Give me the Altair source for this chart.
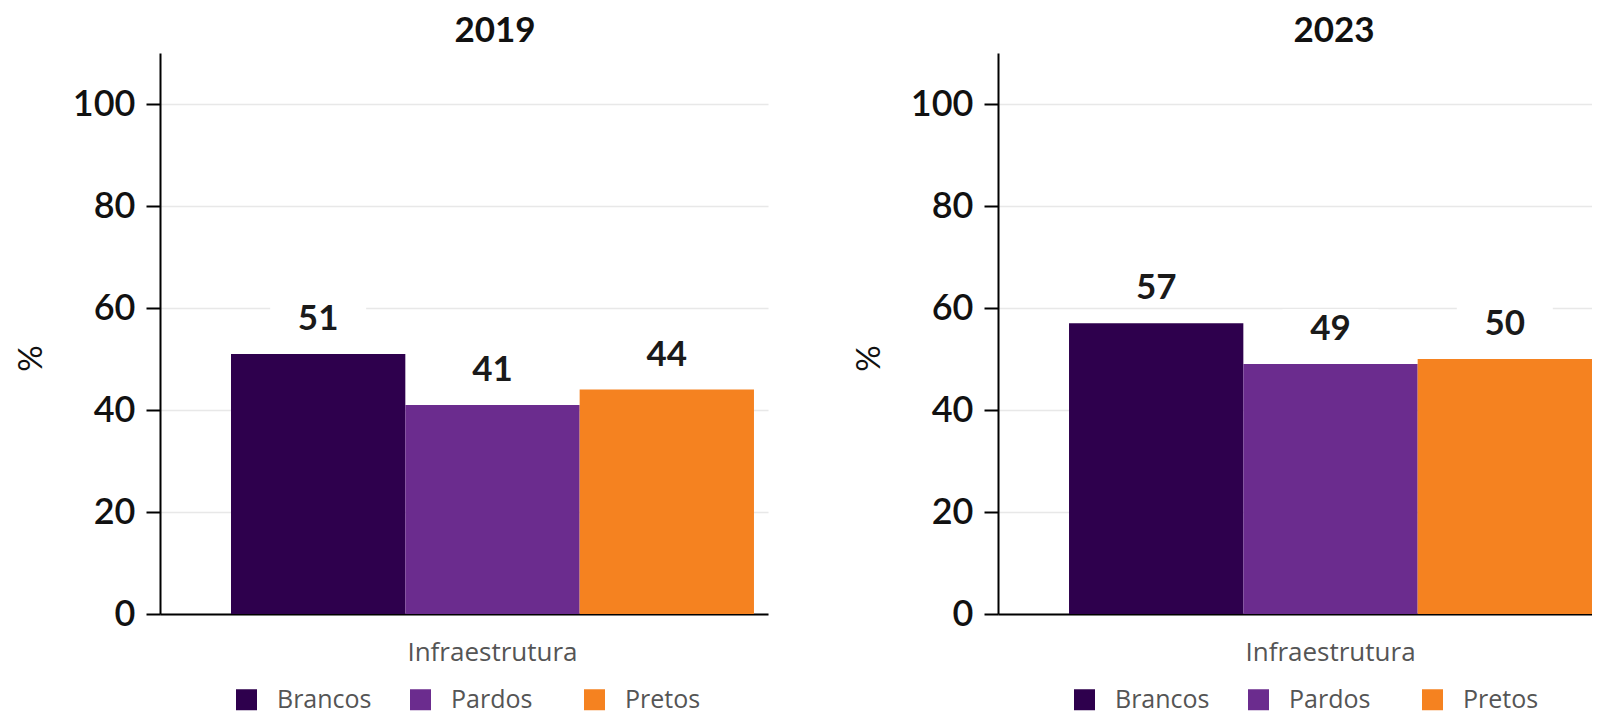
import altair as alt
import pandas as pd

years = ["2019", "2023"]
groups = ["Brancos", "Pardos", "Pretos"]
values_2019 = [51, 41, 44]
values_2023 = [57, 49, 50]
category = "Infraestrutura"
colors = ["#2e004d", "#6b2c8e", "#f58220"]
y_ticks = [0, 20, 40, 60, 80, 100]

BOLD_FONT = "Lato"
LIGHT_FONT = "Open Sans"

# white label background: custom path shifted up above the bar top
box_path = "M-1,-1.146L1,-1.146L1,-0.396L-1,-0.396Z"


def panel(year, values, width, pad_outer, align, title_dx):
    df = pd.DataFrame({"cat": [category] * len(groups), "grupo": groups, "valor": values})
    base = alt.Chart(df).encode(
        x=alt.X(
            "cat:N",
            scale=alt.Scale(paddingInner=0, paddingOuter=pad_outer, align=align),
            axis=alt.Axis(
                title=None, labelAngle=0, ticks=False, domainColor="#000000", domainWidth=2,
                labelFont=LIGHT_FONT, labelFontSize=26, labelColor="#555555", labelPadding=25,
            ),
        ),
        xOffset=alt.XOffset("grupo:N", sort=groups, scale=alt.Scale(paddingInner=0, paddingOuter=0)),
        y=alt.Y(
            "valor:Q",
            scale=alt.Scale(domain=[0, 110], nice=False),
            axis=alt.Axis(
                values=y_ticks, title="%", grid=True, gridColor="#e8e8e8", gridWidth=1.5,
                domainColor="#000000", domainWidth=2, tickColor="#000000", tickSize=14, tickWidth=2,
                labelFont=BOLD_FONT, labelFontWeight=600, labelFontSize=36, labelColor="#111111",
                labelPadding=11, titleFont=BOLD_FONT, titleFontWeight="normal", titleFontSize=33,
                titleColor="#111111", titleAngle=270, titleBaseline="middle", titleAlign="center",
                titleX=-129, titleY=305,
            ),
        ),
    )
    boxes = base.mark_point(shape=box_path, filled=True, color="white", opacity=1, size=9216, strokeWidth=0)
    bars = base.mark_bar(strokeWidth=0).encode(
        color=alt.Color(
            "grupo:N", sort=groups, scale=alt.Scale(domain=groups, range=colors),
            legend=alt.Legend(
                title=None, orient="none", legendX=74, legendY=634, direction="horizontal",
                symbolType="square", symbolSize=441, symbolStrokeWidth=0, symbolOpacity=1,
                labelFont=LIGHT_FONT, labelFontSize=25, labelColor="#555555", labelOffset=18,
                gridAlign="all", columnPadding=36,
            ),
        )
    )
    labels = base.mark_text(dy=-35, font=BOLD_FONT, fontWeight="bold", fontSize=35, color="#1a1a1a").encode(
        text="valor:Q"
    )
    return alt.layer(boxes, bars, labels).properties(
        width=width, height=561,
        title=alt.TitleParams(year, font=BOLD_FONT, fontWeight="bold", fontSize=35, color="#111111",
                              anchor="middle", dx=title_dx, offset=4),
    )


left = panel(years[0], values_2019, 608, 0.0813, 0.835, 31)
right = panel(years[1], values_2023, 594, 0.0679, 1.0, 39)

chart = (
    alt.hconcat(left, right, spacing=85)
    .resolve_scale(color="independent")
    .resolve_legend(color="independent")
    .properties(padding={"left": 7, "top": 6, "right": 0, "bottom": 6})
    .configure_view(stroke=None)
)

chart.save("out.html", embed_options={"renderer": "svg", "actions": False})
